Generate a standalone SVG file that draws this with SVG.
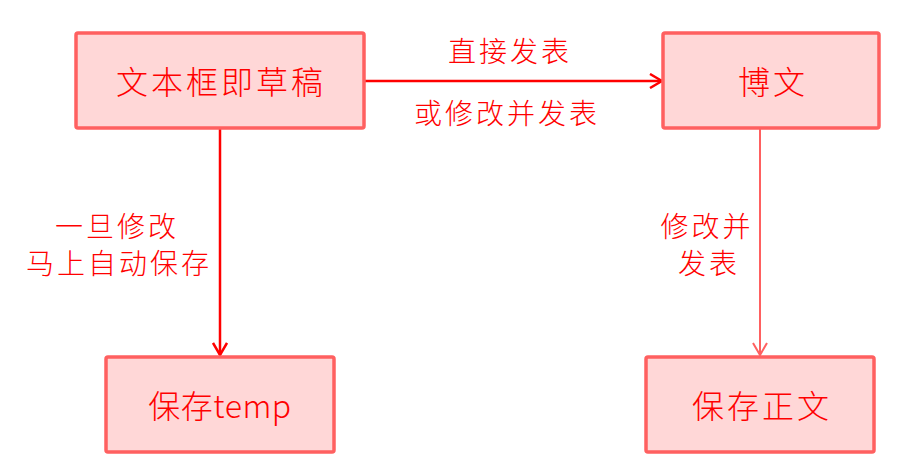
<svg xmlns="http://www.w3.org/2000/svg" width="904" height="476" viewBox="0 0 904 476">
<style>
.box{fill:#FFD7D7;stroke:#FF6060;stroke-width:3.5}
.t{font-family:"Noto Sans CJK SC","Noto Sans",sans-serif;fill:#FF0000;text-anchor:middle;font-weight:300}
.big{font-size:32px;letter-spacing:3px}
.lab{font-size:28px;letter-spacing:3px}
.ln{fill:none;stroke:#FF0000;stroke-width:2.5}
.ln2{fill:none;stroke:#FF6060;stroke-width:2}
</style>
<defs>
<marker id="ah" viewBox="0 0 14 16" refX="13" refY="8" markerWidth="14" markerHeight="16" markerUnits="userSpaceOnUse" orient="auto">
<path d="M1,1 L13,8 L1,15" fill="none" stroke="#FF0000" stroke-width="2.5"/>
</marker>
<marker id="ah2" viewBox="0 0 14 16" refX="13" refY="8" markerWidth="14" markerHeight="16" markerUnits="userSpaceOnUse" orient="auto">
<path d="M1,1 L13,8 L1,15" fill="none" stroke="#FF6060" stroke-width="2"/>
</marker>
</defs>
<g id="connectors">
<line class="ln" x1="365" y1="81" x2="662" y2="81" marker-end="url(#ah)"/>
<line class="ln" x1="220" y1="129" x2="220" y2="355" marker-end="url(#ah)"/>
<line class="ln2" x1="760" y1="129" x2="760" y2="355" marker-end="url(#ah2)"/>
<text class="t lab" x="510" y="62">直接发表</text>
<text class="t lab" x="507" y="124">或修改并发表</text>
<text class="t lab" x="117" y="237">一旦修改</text>
<text class="t lab" x="119" y="274">马上自动保存</text>
<text class="t lab" x="707" y="237">修改并</text>
<text class="t lab" x="709" y="274">发表</text>
</g>
<g id="node-draft">
<rect class="box" x="76" y="33" width="288" height="95" rx="2"/>
<text class="t big" x="221" y="94">文本框即草稿</text>
</g>
<g id="node-post">
<rect class="box" x="663" y="33" width="216" height="95" rx="2"/>
<text class="t big" x="773" y="94">博文</text>
</g>
<g id="node-temp">
<rect class="box" x="106" y="357" width="228" height="95" rx="2"/>
<text class="t big" x="220" y="418" style="letter-spacing:0.5px">保存temp</text>
</g>
<g id="node-body">
<rect class="box" x="646" y="357" width="228" height="95" rx="2"/>
<text class="t big" x="762" y="418">保存正文</text>
</g>
</svg>
